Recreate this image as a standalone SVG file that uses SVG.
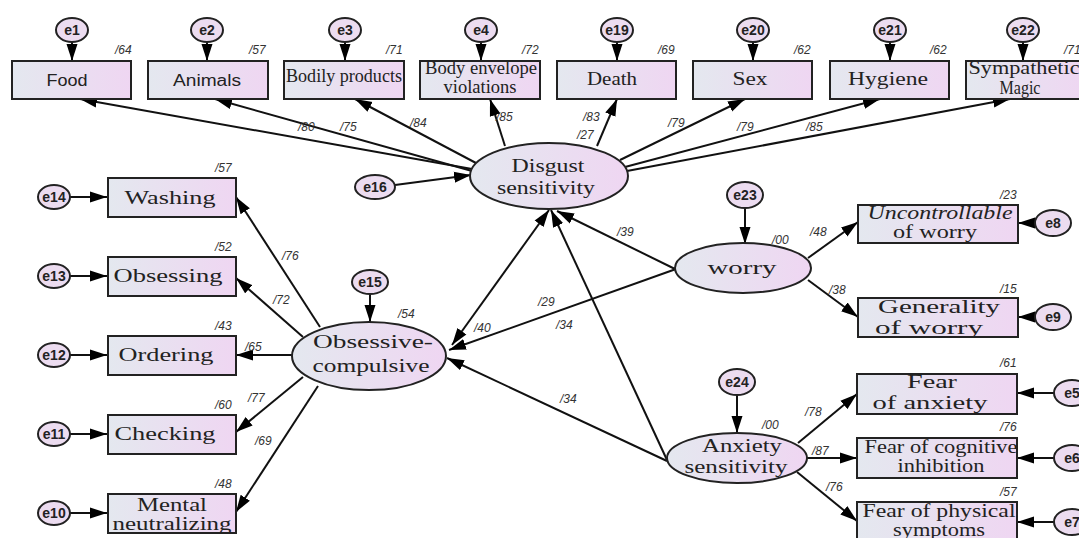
<svg xmlns="http://www.w3.org/2000/svg" width="1079" height="538" viewBox="0 0 1079 538">
<defs>
<linearGradient id="g" x1="0" y1="0" x2="1" y2="0">
<stop offset="0" stop-color="#e4e8ef"/>
<stop offset="1" stop-color="#efd6f2"/>
</linearGradient>
<marker id="ah" markerUnits="userSpaceOnUse" markerWidth="18" markerHeight="12" refX="17" refY="6" orient="auto-start-reverse">
<path d="M0,0.5 L17,6 L0,11.5 z" fill="#000"/>
</marker>
<style>
.box{fill:url(#g);stroke:#222;stroke-width:2}
.ell{fill:url(#g);stroke:#222;stroke-width:2}
.err{fill:#ecdcf0;stroke:#222;stroke-width:2}
.el{font-family:"Liberation Sans",Arial,sans-serif;font-size:14px;font-weight:bold;fill:#222;text-anchor:middle}
.lab{font-family:"Liberation Serif","Times New Roman",serif;font-size:19px;fill:#222;text-anchor:middle}
.labs{font-family:"Liberation Sans",Arial,sans-serif;font-size:16px;fill:#222;text-anchor:middle}
.it{font-style:italic}
.c{font-family:"Liberation Sans",Arial,sans-serif;font-size:12px;fill:#333;font-style:italic}
.ln{stroke:#111;stroke-width:2;fill:none;marker-end:url(#ah)}
.bi{marker-start:url(#ah)}
</style>
</defs>

<g id="connectors">
<line class="ln" x1="72" y1="42" x2="72" y2="61"/>
<line class="ln" x1="207" y1="42" x2="207" y2="61"/>
<line class="ln" x1="345" y1="42" x2="345" y2="61"/>
<line class="ln" x1="481" y1="42" x2="481" y2="61"/>
<line class="ln" x1="617" y1="42" x2="617" y2="61"/>
<line class="ln" x1="753" y1="42" x2="753" y2="61"/>
<line class="ln" x1="890" y1="42" x2="890" y2="61"/>
<line class="ln" x1="1023" y1="42" x2="1023" y2="61"/>
<line class="ln" x1="472" y1="169" x2="80" y2="99"/>
<line class="ln" x1="472" y1="171" x2="215" y2="99"/>
<line class="ln" x1="476" y1="163" x2="355" y2="99"/>
<line class="ln" x1="505" y1="146" x2="490" y2="99"/>
<line class="ln" x1="597" y1="146" x2="617" y2="99"/>
<line class="ln" x1="620" y1="160" x2="745" y2="99"/>
<line class="ln" x1="625" y1="167" x2="880" y2="99"/>
<line class="ln" x1="627" y1="171" x2="1010" y2="99"/>
<line class="ln" x1="395" y1="185" x2="471" y2="175"/>
<line class="ln" x1="70" y1="197" x2="107" y2="197"/>
<line class="ln" x1="70" y1="276" x2="107" y2="276"/>
<line class="ln" x1="70" y1="355" x2="107" y2="355"/>
<line class="ln" x1="70" y1="434" x2="107" y2="434"/>
<line class="ln" x1="70" y1="513" x2="107" y2="513"/>
<line class="ln" x1="320" y1="327" x2="236" y2="197"/>
<line class="ln" x1="303" y1="337" x2="236" y2="278"/>
<line class="ln" x1="292" y1="355" x2="236" y2="355"/>
<line class="ln" x1="303" y1="377" x2="236" y2="432"/>
<line class="ln" x1="318" y1="386" x2="236" y2="512"/>
<line class="ln" x1="370" y1="294" x2="370" y2="322"/>
<line class="ln bi" x1="452" y1="345" x2="549" y2="210"/>
<line class="ln" x1="675" y1="269" x2="557" y2="211"/>
<line class="ln" x1="667" y1="460" x2="551" y2="210"/>
<line class="ln" x1="676" y1="269" x2="449" y2="350"/>
<line class="ln" x1="667" y1="461" x2="447" y2="358"/>
<line class="ln" x1="745" y1="208" x2="745" y2="244"/>
<line class="ln" x1="808" y1="258" x2="858" y2="222"/>
<line class="ln" x1="808" y1="280" x2="858" y2="317"/>
<line class="ln" x1="1035" y1="223" x2="1018" y2="223"/>
<line class="ln" x1="1035" y1="317" x2="1018" y2="317"/>
<line class="ln" x1="737" y1="395" x2="737" y2="433"/>
<line class="ln" x1="798" y1="443" x2="857" y2="394"/>
<line class="ln" x1="807" y1="458" x2="857" y2="458"/>
<line class="ln" x1="797" y1="472" x2="857" y2="521"/>
<line class="ln" x1="1054" y1="393" x2="1017" y2="393"/>
<line class="ln" x1="1054" y1="458" x2="1017" y2="458"/>
<line class="ln" x1="1054" y1="522" x2="1017" y2="522"/>
</g>

<g id="coefficients">
<text class="c" x="115" y="54">/64</text>
<text class="c" x="249" y="54">/57</text>
<text class="c" x="386" y="54">/71</text>
<text class="c" x="522" y="54">/72</text>
<text class="c" x="658" y="54">/69</text>
<text class="c" x="794" y="54">/62</text>
<text class="c" x="930" y="54">/62</text>
<text class="c" x="1064" y="54">/71</text>
<text class="c" x="298" y="131">/80</text>
<text class="c" x="340" y="131">/75</text>
<text class="c" x="410" y="127">/84</text>
<text class="c" x="496" y="121">/85</text>
<text class="c" x="583" y="121">/83</text>
<text class="c" x="577" y="139">/27</text>
<text class="c" x="668" y="127">/79</text>
<text class="c" x="737" y="131">/79</text>
<text class="c" x="806" y="131">/85</text>
<text class="c" x="215" y="172">/57</text>
<text class="c" x="215" y="251">/52</text>
<text class="c" x="215" y="330">/43</text>
<text class="c" x="215" y="409">/60</text>
<text class="c" x="215" y="488">/48</text>
<text class="c" x="282" y="260">/76</text>
<text class="c" x="273" y="304">/72</text>
<text class="c" x="245" y="351">/65</text>
<text class="c" x="248" y="402">/77</text>
<text class="c" x="255" y="445">/69</text>
<text class="c" x="398" y="318">/54</text>
<text class="c" x="474" y="332">/40</text>
<text class="c" x="617" y="236">/39</text>
<text class="c" x="538" y="306">/29</text>
<text class="c" x="556" y="329">/34</text>
<text class="c" x="560" y="403">/34</text>
<text class="c" x="772" y="244">/00</text>
<text class="c" x="810" y="236">/48</text>
<text class="c" x="829" y="294">/38</text>
<text class="c" x="1000" y="199">/23</text>
<text class="c" x="1000" y="293">/15</text>
<text class="c" x="762" y="429">/00</text>
<text class="c" x="805" y="416">/78</text>
<text class="c" x="812" y="455">/87</text>
<text class="c" x="826" y="491">/76</text>
<text class="c" x="1000" y="367">/61</text>
<text class="c" x="1000" y="431">/76</text>
<text class="c" x="1000" y="496">/57</text>
</g>

<g id="e1"><ellipse class="err" cx="72" cy="30" rx="16" ry="12"/><text class="el" x="72" y="35">e1</text></g>
<g id="e2"><ellipse class="err" cx="207" cy="30" rx="16" ry="12"/><text class="el" x="207" y="35">e2</text></g>
<g id="e3"><ellipse class="err" cx="345" cy="30" rx="16" ry="12"/><text class="el" x="345" y="35">e3</text></g>
<g id="e4"><ellipse class="err" cx="481" cy="30" rx="16" ry="12"/><text class="el" x="481" y="35">e4</text></g>
<g id="e19"><ellipse class="err" cx="617" cy="30" rx="16" ry="12"/><text class="el" x="617" y="35">e19</text></g>
<g id="e20"><ellipse class="err" cx="753" cy="30" rx="16" ry="12"/><text class="el" x="753" y="35">e20</text></g>
<g id="e21"><ellipse class="err" cx="890" cy="30" rx="16" ry="12"/><text class="el" x="890" y="35">e21</text></g>
<g id="e22"><ellipse class="err" cx="1023" cy="30" rx="16" ry="12"/><text class="el" x="1023" y="35">e22</text></g>

<g id="food"><rect class="box" x="12" y="61" width="119" height="38"/><text class="labs" x="67" y="86" textLength="41" lengthAdjust="spacingAndGlyphs">Food</text></g>
<g id="animals"><rect class="box" x="148" y="61" width="120" height="38"/><text class="labs" x="207" y="86" textLength="68" lengthAdjust="spacingAndGlyphs">Animals</text></g>
<g id="bodily"><rect class="box" x="284" y="61" width="120" height="38"/><text class="lab" x="344" y="82" font-size="15" textLength="116" lengthAdjust="spacingAndGlyphs">Bodily products</text></g>
<g id="bodyenv"><rect class="box" x="420" y="61" width="120" height="38"/><text class="lab" x="481" y="74" font-size="13" textLength="112" lengthAdjust="spacingAndGlyphs">Body envelope</text><text class="lab" x="480" y="93" font-size="13" textLength="73" lengthAdjust="spacingAndGlyphs">violations</text></g>
<g id="death"><rect class="box" x="557" y="61" width="119" height="38"/><text class="lab" x="612" y="85" font-size="19" textLength="50" lengthAdjust="spacingAndGlyphs">Death</text></g>
<g id="sex"><rect class="box" x="693" y="61" width="119" height="38"/><text class="lab" x="750" y="85" font-size="19" textLength="35" lengthAdjust="spacingAndGlyphs">Sex</text></g>
<g id="hygiene"><rect class="box" x="830" y="61" width="119" height="38"/><text class="lab" x="888" y="85" font-size="19" textLength="80" lengthAdjust="spacingAndGlyphs">Hygiene</text></g>
<g id="sympathetic"><rect class="box" x="966" y="61" width="120" height="38"/><text class="lab" x="1024" y="74" font-size="14" textLength="111" lengthAdjust="spacingAndGlyphs">Sympathetic</text><text class="lab" x="1020" y="94" font-size="14" textLength="41" lengthAdjust="spacingAndGlyphs">Magic</text></g>

<g id="disgust"><ellipse class="ell" cx="549" cy="176" rx="79" ry="33"/><text class="lab" x="548" y="172" textLength="73" lengthAdjust="spacingAndGlyphs">Disgust</text><text class="lab" x="546" y="194" textLength="98" lengthAdjust="spacingAndGlyphs">sensitivity</text></g>
<g id="e16"><ellipse class="err" cx="375" cy="187" rx="20" ry="12"/><text class="el" x="375" y="192">e16</text></g>

<g id="e14"><ellipse class="err" cx="54" cy="197" rx="16" ry="12"/><text class="el" x="54" y="202">e14</text></g>
<g id="e13"><ellipse class="err" cx="54" cy="276" rx="16" ry="12"/><text class="el" x="54" y="281">e13</text></g>
<g id="e12"><ellipse class="err" cx="54" cy="355" rx="16" ry="12"/><text class="el" x="54" y="360">e12</text></g>
<g id="e11"><ellipse class="err" cx="54" cy="434" rx="16" ry="12"/><text class="el" x="54" y="439">e11</text></g>
<g id="e10"><ellipse class="err" cx="54" cy="513" rx="16" ry="12"/><text class="el" x="54" y="518">e10</text></g>

<g id="washing"><rect class="box" x="108" y="178" width="128" height="39"/><text class="lab" x="170" y="204" font-size="20" textLength="91" lengthAdjust="spacingAndGlyphs">Washing</text></g>
<g id="obsessing"><rect class="box" x="108" y="257" width="128" height="39"/><text class="lab" x="168" y="282" font-size="20" textLength="109" lengthAdjust="spacingAndGlyphs">Obsessing</text></g>
<g id="ordering"><rect class="box" x="108" y="336" width="128" height="39"/><text class="lab" x="166" y="361" font-size="20" textLength="95" lengthAdjust="spacingAndGlyphs">Ordering</text></g>
<g id="checking"><rect class="box" x="108" y="415" width="128" height="39"/><text class="lab" x="165" y="440" font-size="20" textLength="101" lengthAdjust="spacingAndGlyphs">Checking</text></g>
<g id="mental"><rect class="box" x="108" y="494" width="128" height="39"/><text class="lab" x="172" y="511" font-size="16" textLength="70" lengthAdjust="spacingAndGlyphs">Mental</text><text class="lab" x="172" y="530" font-size="16" textLength="119" lengthAdjust="spacingAndGlyphs">neutralizing</text></g>

<g id="e15"><ellipse class="err" cx="370" cy="282" rx="18" ry="12"/><text class="el" x="370" y="287">e15</text></g>
<g id="oc"><ellipse class="ell" cx="369" cy="356" rx="77" ry="34"/><text class="lab" x="373" y="348" font-size="20" textLength="120" lengthAdjust="spacingAndGlyphs">Obsessive-</text><text class="lab" x="371" y="372" font-size="20" textLength="117" lengthAdjust="spacingAndGlyphs">compulsive</text></g>

<g id="e23"><ellipse class="err" cx="745" cy="195" rx="18" ry="13"/><text class="el" x="745" y="200">e23</text></g>
<g id="worry"><ellipse class="ell" cx="743" cy="268" rx="68" ry="25"/><text class="lab" x="742" y="274" font-size="21" textLength="69" lengthAdjust="spacingAndGlyphs">worry</text></g>
<g id="uncontrollable"><rect class="box" x="858" y="205" width="160" height="38"/><text class="lab it" x="940" y="219" font-size="16" textLength="145" lengthAdjust="spacingAndGlyphs">Uncontrollable</text><text class="lab" x="935" y="238" font-size="16" textLength="84" lengthAdjust="spacingAndGlyphs">of worry</text></g>
<g id="e8"><ellipse class="err" cx="1053" cy="223" rx="18" ry="13"/><text class="el" x="1053" y="228">e8</text></g>
<g id="generality"><rect class="box" x="858" y="298" width="160" height="39"/><text class="lab" x="939" y="313" font-size="18" textLength="122" lengthAdjust="spacingAndGlyphs">Generality</text><text class="lab" x="929" y="334" font-size="18" textLength="108" lengthAdjust="spacingAndGlyphs">of worry</text></g>
<g id="e9"><ellipse class="err" cx="1053" cy="317" rx="18" ry="13"/><text class="el" x="1053" y="322">e9</text></g>

<g id="e24"><ellipse class="err" cx="737" cy="382" rx="18" ry="13"/><text class="el" x="737" y="387">e24</text></g>
<g id="anxiety"><ellipse class="ell" cx="737" cy="458" rx="70" ry="25"/><text class="lab" x="742" y="452" font-size="18" textLength="80" lengthAdjust="spacingAndGlyphs">Anxiety</text><text class="lab" x="736" y="473" font-size="18" textLength="103" lengthAdjust="spacingAndGlyphs">sensitivity</text></g>
<g id="fearanx"><rect class="box" x="857" y="374" width="160" height="40"/><text class="lab" x="932" y="388" font-size="18" textLength="50" lengthAdjust="spacingAndGlyphs">Fear</text><text class="lab" x="930" y="409" font-size="18" textLength="115" lengthAdjust="spacingAndGlyphs">of anxiety</text></g>
<g id="e5"><ellipse class="err" cx="1072" cy="393" rx="18" ry="13"/><text class="el" x="1072" y="398">e5</text></g>
<g id="fearcog"><rect class="box" x="857" y="438" width="160" height="40"/><text class="lab" x="941" y="453" font-size="15" textLength="153" lengthAdjust="spacingAndGlyphs">Fear of cognitive</text><text class="lab" x="941" y="472" font-size="15" textLength="87" lengthAdjust="spacingAndGlyphs">inhibition</text></g>
<g id="e6"><ellipse class="err" cx="1072" cy="458" rx="18" ry="13"/><text class="el" x="1072" y="463">e6</text></g>
<g id="fearphys"><rect class="box" x="857" y="502" width="160" height="40"/><text class="lab" x="939" y="517" font-size="16" textLength="153" lengthAdjust="spacingAndGlyphs">Fear of physical</text><text class="lab" x="939" y="536" font-size="16" textLength="92" lengthAdjust="spacingAndGlyphs">symptoms</text></g>
<g id="e7"><ellipse class="err" cx="1072" cy="522" rx="18" ry="13"/><text class="el" x="1072" y="527">e7</text></g>
</svg>
